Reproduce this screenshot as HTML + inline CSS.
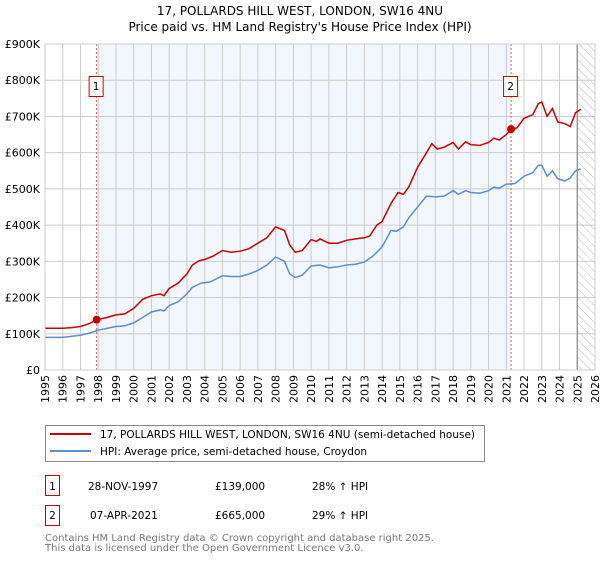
<!DOCTYPE html>
<html><head><meta charset="utf-8"><style>
body{margin:0;background:#fff;width:600px;height:560px;overflow:hidden;font-family:"DejaVu Sans","Liberation Sans",sans-serif;}
svg text{font-family:"DejaVu Sans","Liberation Sans",sans-serif;}
</style></head><body>
<svg id="chart" width="600" height="560" xmlns="http://www.w3.org/2000/svg">
<defs><pattern id="hatch" width="6" height="6" patternUnits="userSpaceOnUse" patternTransform="rotate(-45)"><line x1="0" y1="0" x2="0" y2="6" stroke="#bbb" stroke-width="1"/></pattern></defs>
<text x="300" y="15" text-anchor="middle" font-size="12">17, POLLARDS HILL WEST, LONDON, SW16 4NU</text>
<text x="300" y="31" text-anchor="middle" font-size="12">Price paid vs. HM Land Registry's House Price Index (HPI)</text>
<g id="plot"></g>
<rect x="45.5" y="425.5" width="439" height="36" fill="#fff" stroke="#888"/>
<line x1="50" y1="434" x2="91" y2="434" stroke="#cc0000" stroke-width="2"/>
<text x="100" y="438" font-size="10.5">17, POLLARDS HILL WEST, LONDON, SW16 4NU (semi-detached house)</text>
<line x1="50" y1="451" x2="91" y2="451" stroke="#5b8fd0" stroke-width="2"/>
<text x="100" y="455" font-size="10.5">HPI: Average price, semi-detached house, Croydon</text>
<g font-size="10.5">
<rect x="45.5" y="475.5" width="14" height="20" fill="#fff" stroke="#cc0000"/><text x="52.5" y="490" text-anchor="middle">1</text>
<text x="88" y="490">28-NOV-1997</text><text x="215" y="490">£139,000</text><text x="312" y="490">28% ↑ HPI</text></g>
<g font-size="10.5">
<rect x="45.5" y="505.5" width="14" height="20" fill="#fff" stroke="#cc0000"/><text x="52.5" y="519" text-anchor="middle">2</text>
<text x="90" y="519">07-APR-2021</text><text x="215" y="519">£665,000</text><text x="312" y="519">29% ↑ HPI</text></g>
<text x="45" y="541" font-size="10" fill="#777">Contains HM Land Registry data © Crown copyright and database right 2025.</text>
<text x="45" y="551" font-size="10" fill="#777">This data is licensed under the Open Government Licence v3.0.</text>
</svg>
<script>
const yearTicks=[1995,1996,1997,1998,1999,2000,2001,2002,2003,2004,2005,2006,2007,2008,2009,2010,2011,2012,2013,2014,2015,2016,2017,2018,2019,2020,2021,2022,2023,2024,2025,2026];
const valueTicks=[0,100000,200000,300000,400000,500000,600000,700000,800000,900000];
const valueLabels=["£0","£100K","£200K","£300K","£400K","£500K","£600K","£700K","£800K","£900K"];
const propYears=[1995,1996,1996.5,1997,1997.5,1997.9,1998.5,1999,1999.5,2000,2000.5,2001,2001.5,2001.7,2002,2002.5,2003,2003.3,2003.7,2004,2004.5,2005,2005.5,2006,2006.5,2007,2007.5,2008,2008.5,2008.8,2009.1,2009.5,2010,2010.3,2010.5,2011,2011.5,2012,2012.5,2013,2013.3,2013.7,2014,2014.5,2014.9,2015.2,2015.5,2016,2016.5,2016.8,2017.1,2017.5,2018,2018.3,2018.7,2019,2019.5,2020,2020.3,2020.6,2021,2021.27,2021.6,2022,2022.5,2022.8,2023,2023.3,2023.6,2023.9,2024.3,2024.6,2024.9,2025.2];
const propValues=[115,115,117,120,128,139,145,152,155,170,195,205,210,205,225,240,265,290,302,305,315,330,325,328,335,350,365,395,385,345,325,330,360,355,362,350,350,358,362,365,370,400,410,460,490,485,505,560,600,625,610,615,628,610,630,622,620,628,640,635,650,665,668,695,705,735,740,700,722,685,680,672,710,720];
const hpiYears=[1995,1996,1997,1997.5,1998,1999,1999.5,2000,2000.5,2001,2001.5,2001.7,2002,2002.5,2003,2003.3,2003.8,2004.3,2005,2005.5,2006,2006.5,2007,2007.5,2008,2008.5,2008.8,2009.1,2009.5,2010,2010.5,2011,2011.5,2012,2012.5,2013,2013.5,2014,2014.5,2014.8,2015.2,2015.5,2016,2016.5,2017,2017.5,2018,2018.3,2018.7,2019,2019.5,2020,2020.3,2020.6,2021,2021.5,2022,2022.5,2022.8,2023,2023.3,2023.6,2023.9,2024.3,2024.6,2024.9,2025.2];
const hpiValues=[90,90,96,102,110,120,122,130,145,160,166,163,178,188,210,228,240,243,260,258,258,265,275,290,312,300,265,255,262,287,290,282,285,290,292,298,315,340,385,383,395,420,450,480,478,480,495,485,495,490,488,495,505,502,513,515,535,545,565,565,535,550,528,522,530,550,555];
const saleYears=[1997.91,2021.27];
const saleValues=[139,665];
const saleLabels=["1","2"];
const X0=45,X1=595,Y0=370,Y1=44;
const xs=y=>X0+(y-1995)/(2026-1995)*(X1-X0);
const ys=v=>Y0-v/900000*(Y0-Y1);
const NS="http://www.w3.org/2000/svg";
const g=document.getElementById('plot');
function mk(t,a){const e=document.createElementNS(NS,t);for(const k in a)e.setAttribute(k,a[k]);g.appendChild(e);return e;}
let e;
e=mk('rect',{x:xs(saleYears[0]),y:Y1,width:xs(saleYears[1])-xs(saleYears[0]),height:Y0-Y1,fill:'#f2f6fd'});


e=mk('rect',{x:xs(2025.0),y:Y1,width:X1-xs(2025.0),height:Y0-Y1,fill:'url(#hatch)'});


yearTicks.forEach(t=>{const x=xs(t);
e=mk('line',{x1:x,y1:Y1,x2:x,y2:Y0,stroke:'#ccc'});


e=mk('text',{x:0,y:0,transform:`translate(${x+4},${Y0+5}) rotate(-90)`,'text-anchor':'end','font-size':'11'});e.textContent=t;

});
valueTicks.forEach((v,i)=>{const y=ys(v);
e=mk('line',{x1:X0,y1:y,x2:X1,y2:y,stroke:'#ccc'});


e=mk('text',{x:X0-5,y:y+4,'text-anchor':'end','font-size':'11'});e.textContent=valueLabels[i];

});
e=mk('line',{x1:xs(2025.0),y1:Y1,x2:xs(2025.0),y2:Y0,stroke:'#888','stroke-width':1.2});


saleYears.forEach((yr,i)=>{const x=xs(yr);
e=mk('line',{x1:x,y1:Y1,x2:x,y2:Y0,stroke:'#e06060','stroke-dasharray':'2,2'});

});
e=mk('path',{d:hpiYears.map((y,i)=>(i?'L':'M')+xs(y).toFixed(1)+','+ys(hpiValues[i]*1000).toFixed(1)).join(''),fill:'none',stroke:'#5b8fd0','stroke-width':1.5});


e=mk('path',{d:propYears.map((y,i)=>(i?'L':'M')+xs(y).toFixed(1)+','+ys(propValues[i]*1000).toFixed(1)).join(''),fill:'none',stroke:'#cc0000','stroke-width':1.5});


saleYears.forEach((yr,i)=>{const x=xs(yr);
e=mk('circle',{cx:x,cy:ys(saleValues[i]*1000),r:4,fill:'#cc0000'});


e=mk('rect',{x:x-7.5,y:76.5,width:14,height:20,fill:'#fff',stroke:'#cc0000'});


e=mk('text',{x:x-0.5,y:90,'text-anchor':'middle','font-size':'10.5'});e.textContent=saleLabels[i];

});
e=mk('rect',{x:X0,y:Y1,width:X1-X0,height:Y0-Y1,fill:'none',stroke:'#ccc'});


</script>
</body></html>
